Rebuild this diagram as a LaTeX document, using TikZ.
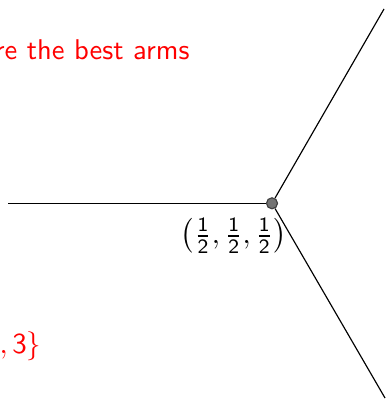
\documentclass[tikz,border=0pt]{standalone}
\usepackage{amsmath}
\renewcommand{\familydefault}{\sfdefault}
\begin{document}
\begin{tikzpicture}[x=0.345pt,y=-0.345pt,
  edge/.style={line width=0.4pt,black},
  vert/.style={circle,draw=black!75,fill=black!55,line width=0.4pt,inner sep=0pt,minimum size=3.8pt},
  redtxt/.style={text=red,inner sep=0pt,font=\sffamily\fontsize{9.85}{12}\selectfont}]
\useasboundingbox (0,0) rectangle (385,400);
\node[vert] (p) at (272,203.3) {};
\coordinate (w) at (8,203.3);
\coordinate (ne) at (384,9);
\coordinate (se) at (385,398);
\draw[edge] (w) -- (p);
\draw[edge] (p) -- (ne);
\draw[edge] (p) -- (se);
\node[anchor=east,inner sep=0pt] (lab) at (287,236) {$\left(\frac{\mathsf{1}}{\mathsf{2}},\frac{\mathsf{1}}{\mathsf{2}},\frac{\mathsf{1}}{\mathsf{2}}\right)$};
\node[redtxt,anchor=base east] (t1) at (190,59.3) {re the best arms};
\node[redtxt,anchor=base east] (t2) at (42,353) {$,\mathsf{3}\}$};
\end{tikzpicture}
\end{document}
